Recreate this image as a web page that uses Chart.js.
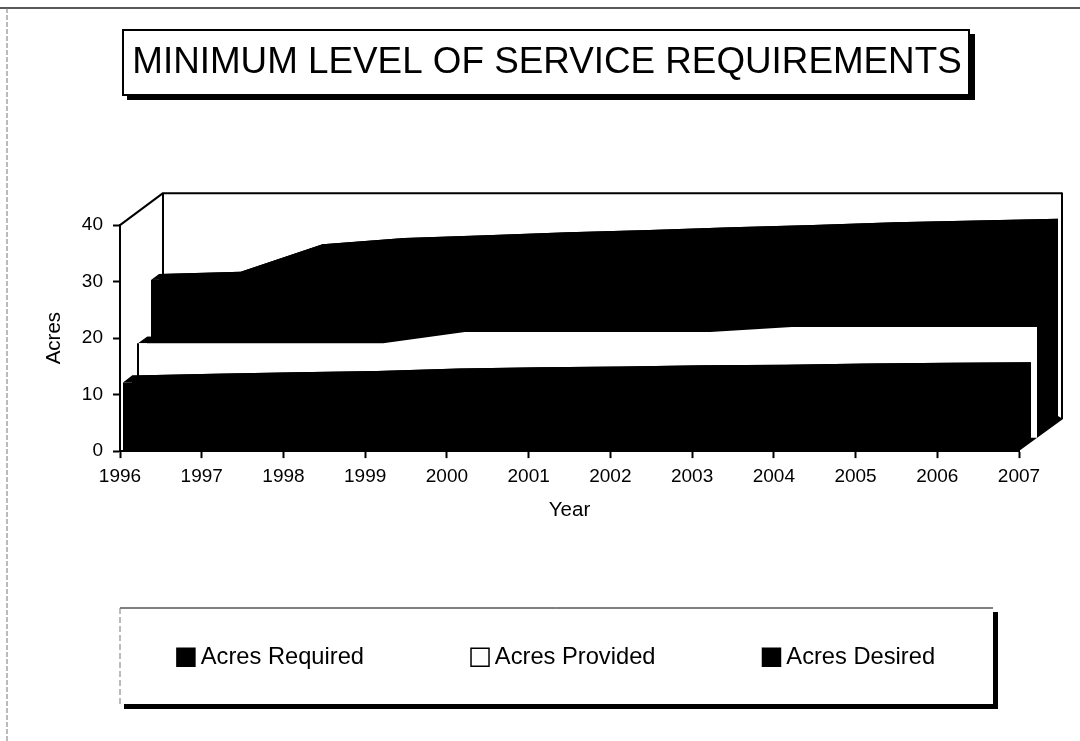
<!DOCTYPE html>
<html><head><meta charset="utf-8">
<style>html,body{margin:0;padding:0;background:#fff}canvas{display:block}</style>
<script src="https://cdn.jsdelivr.net/npm/chart.js@4"></script></head>
<body><canvas id="c" width="1080" height="741"></canvas>
<script>
const years = ['1996','1997','1998','1999','2000','2001','2002','2003','2004','2005','2006','2007'];
const acresRequired = [11.8,12.1,12.35,12.6,13.05,13.25,13.4,13.6,13.7,13.9,14.05,14.15];
const acresProvided = [16.7,16.7,16.7,16.7,18.7,18.7,18.7,18.7,19.6,19.6,19.6,19.6];
const acresDesired = [26.2,26.6,31.5,32.6,33.1,33.6,34.0,34.5,34.9,35.4,35.7,36.0];
const yTicks = [0,10,20,30,40];

const FONT = 'Liberation Sans';
// depth slabs: [front dx, front dy, rear dx, rear dy]
const slabs = [[3,-2,12,-9],[18,-13.4,27,-20],[31,-23,39,-29]];
const DEPTH = [43,-32];

function trace(ctx, pts, base, dx, dy){
  ctx.beginPath();
  ctx.moveTo(pts[0].x+dx, base+dy);
  pts.forEach(p=>ctx.lineTo(p.x+dx,p.y+dy));
  ctx.lineTo(pts[pts.length-1].x+dx, base+dy);
  ctx.closePath();
}
const depth3d = {
  id:'depth3d',
  afterLayout(chart){ chart.legend.left+=12; chart.legend.right+=12; },
  beforeDatasetsDraw(chart){
    const ctx=chart.ctx, xs=chart.scales.x, ys=chart.scales.y;
    const l=xs.left, r=xs.right, t=ys.top, b=ys.bottom, [dx,dy]=DEPTH;
    ctx.save();
    ctx.lineJoin='round';
    ctx.strokeStyle='#000'; ctx.lineWidth=2;
    ctx.beginPath();
    ctx.moveTo(l,b); ctx.lineTo(l,t); ctx.lineTo(l+dx,t+dy); ctx.lineTo(r+dx,t+dy); ctx.lineTo(r+dx,b+dy);
    ctx.moveTo(l+dx,t+dy); ctx.lineTo(l+dx,b+dy);
    ctx.stroke();
    ctx.fillStyle='#000';
    ctx.beginPath();
    ctx.moveTo(l+3,b); ctx.lineTo(r,b); ctx.lineTo(r+dx+1,b+dy); ctx.lineTo(r+dx-4,b+dy-3); ctx.lineTo(l+3,b-40);
    ctx.closePath(); ctx.fill();
    [2,1,0].forEach(i=>{
      const ds=chart.data.datasets[i], pts=chart.getDatasetMeta(i).data, [fx,fy,rx,ry]=slabs[i];
      ctx.fillStyle='#000';
      trace(ctx,pts,b,rx,ry); ctx.fill();
      ctx.beginPath();
      pts.forEach((p,k)=>k?ctx.lineTo(p.x+rx,p.y+ry):ctx.moveTo(p.x+rx,p.y+ry));
      for(let k=pts.length-1;k>=0;k--) ctx.lineTo(pts[k].x+fx,pts[k].y+fy);
      ctx.closePath(); ctx.fill();
      ctx.fillStyle=ds.backgroundColor;
      trace(ctx,pts,b,fx,fy); ctx.fill();
      if(i===1){
        ctx.beginPath(); ctx.moveTo(pts[0].x+fx,pts[0].y+fy); ctx.lineTo(pts[0].x+fx,b+fy); ctx.stroke();
      }
    });
    ctx.restore();
  },
  beforeDraw(chart){
    const ctx=chart.ctx;
    ctx.save();
    ctx.fillStyle='#fff'; ctx.fillRect(0,0,1080,741);
    ctx.strokeStyle='#222'; ctx.lineWidth=1.5;
    ctx.beginPath(); ctx.moveTo(0,8); ctx.lineTo(1080,8); ctx.stroke();
    ctx.strokeStyle='#777'; ctx.lineWidth=1; ctx.setLineDash([5,2]);
    ctx.beginPath(); ctx.moveTo(7,8); ctx.lineTo(7,741); ctx.stroke();
    ctx.setLineDash([]);
    ctx.fillStyle='#000'; ctx.fillRect(127,34,848,66);
    ctx.fillStyle='#fff'; ctx.fillRect(123,30,846,65);
    ctx.strokeStyle='#000'; ctx.lineWidth=2; ctx.strokeRect(123,30,846,65);
    ctx.fillStyle='#000'; ctx.fillRect(124,612,874,97);
    ctx.fillStyle='#fff'; ctx.fillRect(120,608,873,96);
    ctx.lineWidth=1; ctx.strokeStyle='#000';
    ctx.beginPath(); ctx.moveTo(120,608); ctx.lineTo(993,608); ctx.stroke();
    ctx.strokeStyle='#777'; ctx.setLineDash([6,3]);
    ctx.beginPath(); ctx.moveTo(120,608); ctx.lineTo(120,704); ctx.stroke();
    ctx.restore();
  }
};
const mk=(label,data,color,border)=>({label,data,backgroundColor:color,borderColor:border,showLine:false,pointRadius:0,fill:false,clip:false});
new Chart(document.getElementById('c'),{
  type:'line',
  data:{labels:years,datasets:[
    mk('Acres Required',acresRequired,'#000','#000'),
    mk('Acres Provided',acresProvided,'#fff','#000'),
    mk('Acres Desired',acresDesired,'#000','#000')
  ]},
  plugins:[depth3d],
  options:{
    responsive:false,animation:false,
    layout:{padding:{left:14,right:0,top:0,bottom:62}},
    plugins:{
      tooltip:{enabled:false},
      title:{display:true,text:'MINIMUM LEVEL OF SERVICE REQUIREMENTS',color:'#000',
        font:{family:FONT,size:36.8,weight:'normal',lineHeight:1.2},padding:{top:41,bottom:140}},
      legend:{display:true,position:'bottom',
        labels:{color:'#000',font:{family:FONT,size:23.7},padding:113,usePointStyle:true,boxWidth:6,boxHeight:18,
          generateLabels:c=>c.data.datasets.map((d,i)=>({text:d.label,fillStyle:d.backgroundColor,strokeStyle:'#000',lineWidth:1.5,pointStyle:'rect',datasetIndex:i,fontColor:'#000'}))}}
    },
    scales:{
      x:{type:'category',offset:false,
        grid:{display:true,drawOnChartArea:false,drawTicks:true,tickLength:7,tickWidth:2,tickColor:'#000'},
        border:{display:true,color:'#000',width:2},
        afterFit:s=>{s.paddingRight=61;},
        ticks:{color:'#000',font:{family:FONT,size:19},maxRotation:0,autoSkip:false,padding:7},
        title:{display:true,text:'Year',color:'#000',font:{family:FONT,size:20.5},padding:{top:3.5,bottom:9.3}}},
      y:{min:0,max:40,
        afterBuildTicks:s=>{s.ticks=yTicks.map(v=>({value:v}));},
        afterFit:s=>{s.width=106;},
        grid:{display:true,drawOnChartArea:false,drawTicks:true,tickLength:7,tickWidth:2,tickColor:'#000'},
        border:{display:true,color:'#000',width:2},
        ticks:{color:'#000',font:{family:FONT,size:19},padding:10},
        title:{display:true,text:'Acres',color:'#000',font:{family:FONT,size:20.5},padding:{top:28,bottom:4}}}
    }
  }
});
</script></body></html>
